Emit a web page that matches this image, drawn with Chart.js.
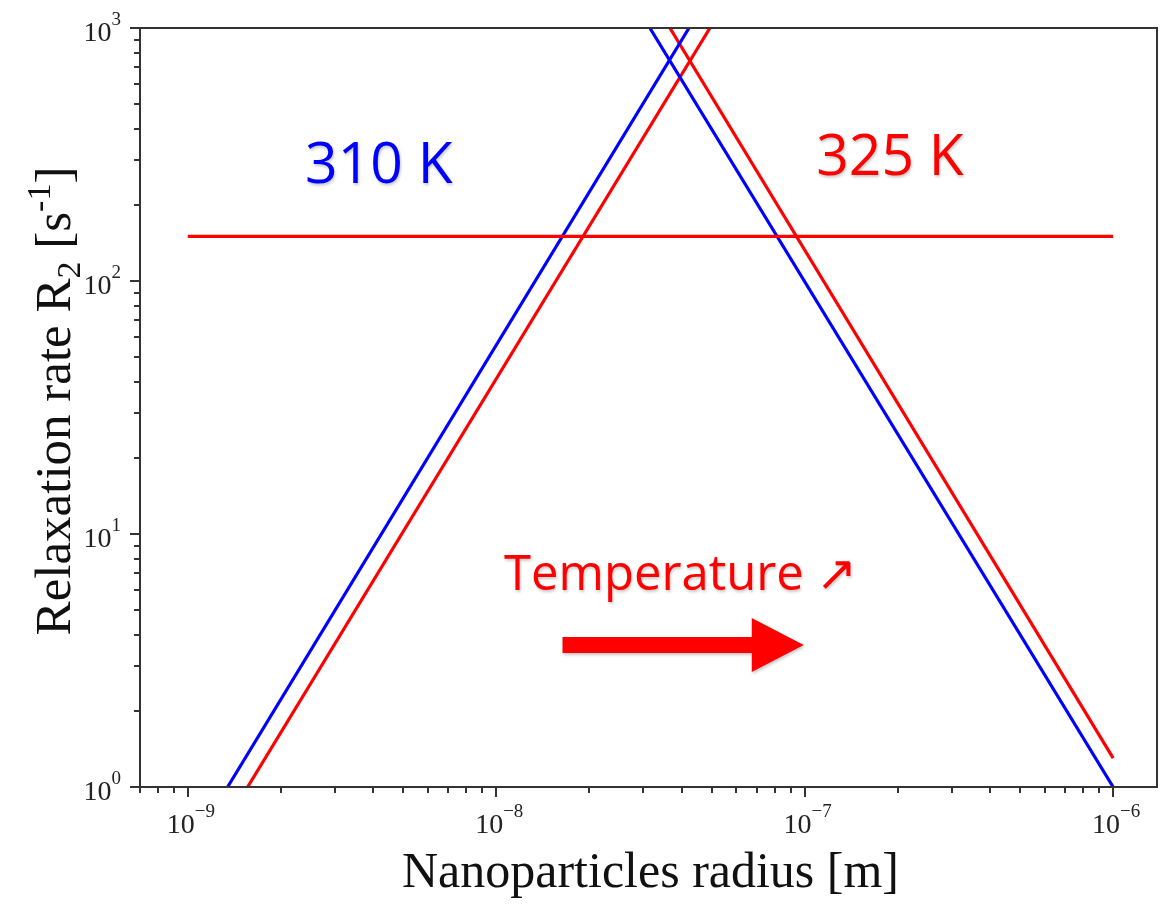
<!DOCTYPE html>
<html>
<head>
<meta charset="utf-8">
<title>Relaxation rate vs nanoparticle radius</title>
<script src="https://cdn.jsdelivr.net/npm/chart.js@4"></script>
<style>
  html, body { margin: 0; padding: 0; background: #fff; }
  #wrap { width: 1161px; height: 910px; position: relative; }
</style>
</head>
<body>
<div id="wrap"><canvas id="chart"></canvas></div>
<script>
// ── Data (radius in m, R2 in 1/s) ─────────────────────────────────────────
var rise310X = [1.346e-9, 4.217e-8];
var rise310Y = [1, 1000];
var fall310X = [3.148e-8, 1.0e-6];
var fall310Y = [1000, 1];

var rise325X = [1.563e-9, 4.93e-8];
var rise325Y = [1, 1000];
var fall325X = [3.656e-8, 1.0e-6];
var fall325Y = [1000, 1.30];

var levelX = [1.0e-9, 1.0e-6];
var levelY = [150, 150];

var xMajorTicks = [1e-9, 1e-8, 1e-7, 1e-6];
var xTickExps   = ['\u22129', '\u22128', '\u22127', '\u22126'];
var yMajorTicks = [1, 10, 100, 1000];
var yTickExps   = ['0', '1', '2', '3'];

var BLUE = '#0000ff';
var RED  = '#ff0000';
var SERIF = "'Liberation Serif', 'Times New Roman', serif";
var SANS  = "'Open Sans', 'Noto Sans', sans-serif";

function pts(xs, ys) {
    return xs.map(function (v, i) { return { x: v, y: ys[i] }; });
}

function lineSet(label, xs, ys, color) {
    return {
        label: label,
        data: pts(xs, ys),
        showLine: true,
        borderColor: color,
        backgroundColor: color,
        borderWidth: 3.2,
        pointRadius: 0,
        fill: false
    };
}

// draws "10" with a raised exponent, anchored by align ('center' | 'right')
function powerLabel(ctx, exp, x, baseline, align) {
    ctx.font = '28px ' + SERIF;
    var wBase = ctx.measureText('10').width;
    ctx.font = '19px ' + SERIF;
    var wExp = ctx.measureText(exp).width;
    var total = wBase + wExp;
    var start = align === 'right' ? x - total : x - total / 2;
    ctx.textAlign = 'left';
    ctx.textBaseline = 'alphabetic';
    ctx.font = '28px ' + SERIF;
    ctx.fillText('10', start, baseline);
    ctx.font = '19px ' + SERIF;
    ctx.fillText(exp, start + wBase, baseline - 16);
}

// ── Frame, log ticks, titles and annotations ──────────────────────────────
var decorPlugin = {
    id: 'decor',
    afterDraw: function (chart) {
        var ctx = chart.ctx;
        var a = chart.chartArea;
        var sx = chart.scales.x;
        var sy = chart.scales.y;

        ctx.save();
        ctx.strokeStyle = '#333';
        ctx.fillStyle = '#222';
        ctx.lineWidth = 2;
        ctx.strokeRect(a.left, a.top, a.right - a.left, a.bottom - a.top);

        // tick marks
        ctx.beginPath();
        for (var d = -10; d <= -5; d++) {
            for (var k = 1; k <= 9; k++) {
                var v = k * Math.pow(10, d);
                if (v < sx.min || v > sx.max) continue;
                var px = Math.round(sx.getPixelForValue(v));
                ctx.moveTo(px, a.bottom);
                ctx.lineTo(px, a.bottom + (k === 1 ? 10 : 6));
            }
        }
        for (var e = 0; e <= 3; e++) {
            for (var j = 1; j <= 9; j++) {
                var w = j * Math.pow(10, e);
                if (w < sy.min || w > sy.max) continue;
                var py = Math.round(sy.getPixelForValue(w));
                ctx.moveTo(a.left, py);
                ctx.lineTo(a.left - (j === 1 ? 10 : 6), py);
            }
        }
        ctx.stroke();

        // tick labels
        xMajorTicks.forEach(function (v, i) {
            powerLabel(ctx, xTickExps[i], sx.getPixelForValue(v) + 3, a.bottom + 46, 'center');
        });
        yMajorTicks.forEach(function (v, i) {
            powerLabel(ctx, yTickExps[i], a.left - 19, sy.getPixelForValue(v) + 13, 'right');
        });

        // x title
        ctx.fillStyle = '#111';
        ctx.font = '50px ' + SERIF;
        ctx.textAlign = 'center';
        ctx.textBaseline = 'alphabetic';
        ctx.fillText('Nanoparticles radius [m]', (a.left + a.right) / 2 + 2, 887);

        // y title, rotated, with subscript and superscript
        var parts = [
            { t: 'Relaxation rate R', size: 51, dy: 0 },
            { t: '2', size: 34, dy: 10 },
            { t: ' [s', size: 51, dy: 0 },
            { t: '-1', size: 34, dy: -20 },
            { t: ']', size: 51, dy: 0 }
        ];
        var total = 0;
        parts.forEach(function (p) {
            ctx.font = p.size + 'px ' + SERIF;
            p.w = ctx.measureText(p.t).width;
            total += p.w;
        });
        ctx.save();
        ctx.translate(70, 401);
        ctx.rotate(-Math.PI / 2);
        ctx.textAlign = 'left';
        var cx = -total / 2;
        parts.forEach(function (p) {
            ctx.font = p.size + 'px ' + SERIF;
            ctx.fillText(p.t, cx, p.dy);
            cx += p.w;
        });
        ctx.restore();

        // annotations inside the plot
        ctx.shadowColor = 'rgba(0,0,0,0.22)';
        ctx.shadowBlur = 3;
        ctx.shadowOffsetX = 1;
        ctx.shadowOffsetY = 2;
        ctx.textAlign = 'left';
        ctx.font = '57px ' + SANS;
        ctx.fillStyle = BLUE;
        ctx.fillText('310 K', sx.getPixelForValue(2.4e-9), sy.getPixelForValue(244));
        ctx.fillStyle = RED;
        ctx.fillText('325 K', sx.getPixelForValue(1.09e-7), sy.getPixelForValue(262));
        ctx.font = '49px ' + SANS;
        ctx.fillText('Temperature \u2197', sx.getPixelForValue(1.06e-8), sy.getPixelForValue(6.0));

        // block arrow
        var x0 = sx.getPixelForValue(1.64e-8);
        var x1 = sx.getPixelForValue(9.93e-8);
        var yc = sy.getPixelForValue(3.64);
        ctx.beginPath();
        ctx.moveTo(x0, yc - 8);
        ctx.lineTo(x1 - 52, yc - 8);
        ctx.lineTo(x1 - 52, yc - 27);
        ctx.lineTo(x1, yc);
        ctx.lineTo(x1 - 52, yc + 27);
        ctx.lineTo(x1 - 52, yc + 8);
        ctx.lineTo(x0, yc + 8);
        ctx.closePath();
        ctx.fill();
        ctx.restore();
    }
};

new Chart(document.getElementById('chart'), {
    type: 'scatter',
    data: {
        datasets: [
            lineSet('R2 threshold', levelX, levelY, RED),
            lineSet('310 K (rising)', rise310X, rise310Y, BLUE),
            lineSet('310 K (falling)', fall310X, fall310Y, BLUE),
            lineSet('325 K (rising)', rise325X, rise325Y, RED),
            lineSet('325 K (falling)', fall325X, fall325Y, RED)
        ]
    },
    options: {
        responsive: true,
        maintainAspectRatio: false,
        animation: false,
        layout: { padding: { left: 140, top: 28, right: 4, bottom: 123 } },
        plugins: {
            legend: { display: false },
            tooltip: { enabled: false }
        },
        scales: {
            x: { type: 'logarithmic', display: false, min: 7.152e-10, max: 1.387e-6 },
            y: { type: 'logarithmic', display: false, min: 1, max: 1000 }
        }
    },
    plugins: [decorPlugin]
});
</script>
</body>
</html>
